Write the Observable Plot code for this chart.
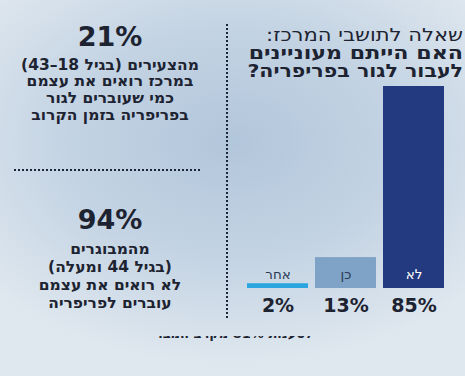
<!DOCTYPE html>
<html lang="he">
<head>
<meta charset="utf-8">
<script src="https://cdn.jsdelivr.net/npm/d3@7"></script>
<script src="https://cdn.jsdelivr.net/npm/@observablehq/plot@0.6"></script>
<style>
  html, body { margin: 0; padding: 0; }
  body { width: 465px; height: 376px; overflow: hidden; }
  #wrap {
    position: relative; width: 465px; height: 376px; overflow: hidden;
    background: radial-gradient(ellipse 70% 60% at 50% 38%, #b2c6db 0%, #c3d3e3 50%, #e0e8ef 100%);
    font-family: "DejaVu Sans", sans-serif; color: #1d2331;
  }
  .abs { position: absolute; }
  .big { font-weight: 700; font-size: 27px; text-align: center; width: 220px; left: 0; line-height: 1; }
  .para { font-weight: 700; font-size: 15.5px; text-align: center; width: 220px; left: 0; direction: rtl; white-space: nowrap; }
  #title { right: 2px; top: 25.5px; width: 230px; direction: rtl; text-align: right; line-height: 18px; white-space: nowrap; }
  #title div { transform-origin: right center; font-size: 18px; }
  #title .q1 { font-weight: 400; transform: scaleX(1.17); }
  #title .q2a { font-weight: 700; transform: scaleX(1.23); }
  #title .q2b { font-weight: 700; transform: scaleX(1.14); }
  #vline { left: 226px; top: 24px; width: 0; height: 294px; border-left: 2px dotted #1d2638; }
  #hline { left: 14px; top: 169px; width: 186px; height: 0; border-top: 2px dotted #1d2638; }
  #cut { left: 158px; top: 336px; width: 155px; height: 6px; overflow: hidden; }
  #cut span { display: block; font-size: 13px; font-weight: 700; direction: rtl; text-align: center; margin-top: -10px; white-space: nowrap; }
  #chart { position: absolute; left: 0; top: 0; }
</style>
</head>
<body>
<div id="wrap">
  <div class="abs big" style="top:23px;">21%</div>
  <div class="abs para" style="top:56.5px; line-height:16.7px;">מהצעירים (בגיל 18–43)<br>במרכז רואים את עצמם<br>כמי שעוברים לגור<br>בפריפריה בזמן הקרוב</div>
  <div class="abs" id="hline"></div>
  <div class="abs big" style="top:206px;">94%</div>
  <div class="abs para" style="top:239.5px; line-height:18.3px;">מהמבוגרים<br>(בגיל 44 ומעלה)<br>לא רואים את עצמם<br>עוברים לפריפריה</div>
  <div class="abs" id="vline"></div>
  <div class="abs" id="title"><div class="q1">שאלה לתושבי המרכז:</div><div class="q2a">האם הייתם מעוניינים</div><div class="q2b">לעבור לגור בפריפריה?</div></div>
  <div class="abs" id="cut"><span>לטענות 81% מקרב המבוגרים</span></div>
  <div id="chart"></div>
</div>
<script>
const categories = ["לא", "כן", "אחר"];
const values = [85, 13, 2];
const valueLabels = ["85%", "13%", "2%"];
const barColors = ["#243a80", "#7fa2c7", "#2aa5df"];
const labelColors = ["#ffffff", "#2b3a55", "#2b3a55"];
const order = ["אחר", "כן", "לא"];

const data = categories.map((c, i) => ({
  cat: c, value: values[i], pct: valueLabels[i], color: barColors[i], lc: labelColors[i]
}));

const chart = Plot.plot({
  width: 465,
  height: 376,
  marginLeft: 246,
  marginRight: 20,
  marginTop: 86,
  marginBottom: 88,
  style: { background: "transparent", fontFamily: "'DejaVu Sans', sans-serif" },
  x: { domain: order, paddingInner: 0.1, paddingOuter: 0, axis: null },
  y: { domain: [0, 85], axis: null },
  color: { type: "identity" },
  marks: [
    Plot.barY(data, { x: "cat", y: "value", fill: "color" }),
    Plot.text(data, { x: "cat", y: 0, dy: -14, text: "cat", fill: "lc", fontSize: 13.5 }),
    Plot.text(data, { x: "cat", y: 0, dy: 17, text: "pct", fill: "#1d2331", fontSize: 19, fontWeight: 700 })
  ]
});
document.getElementById("chart").appendChild(chart);
</script>
</body>
</html>
